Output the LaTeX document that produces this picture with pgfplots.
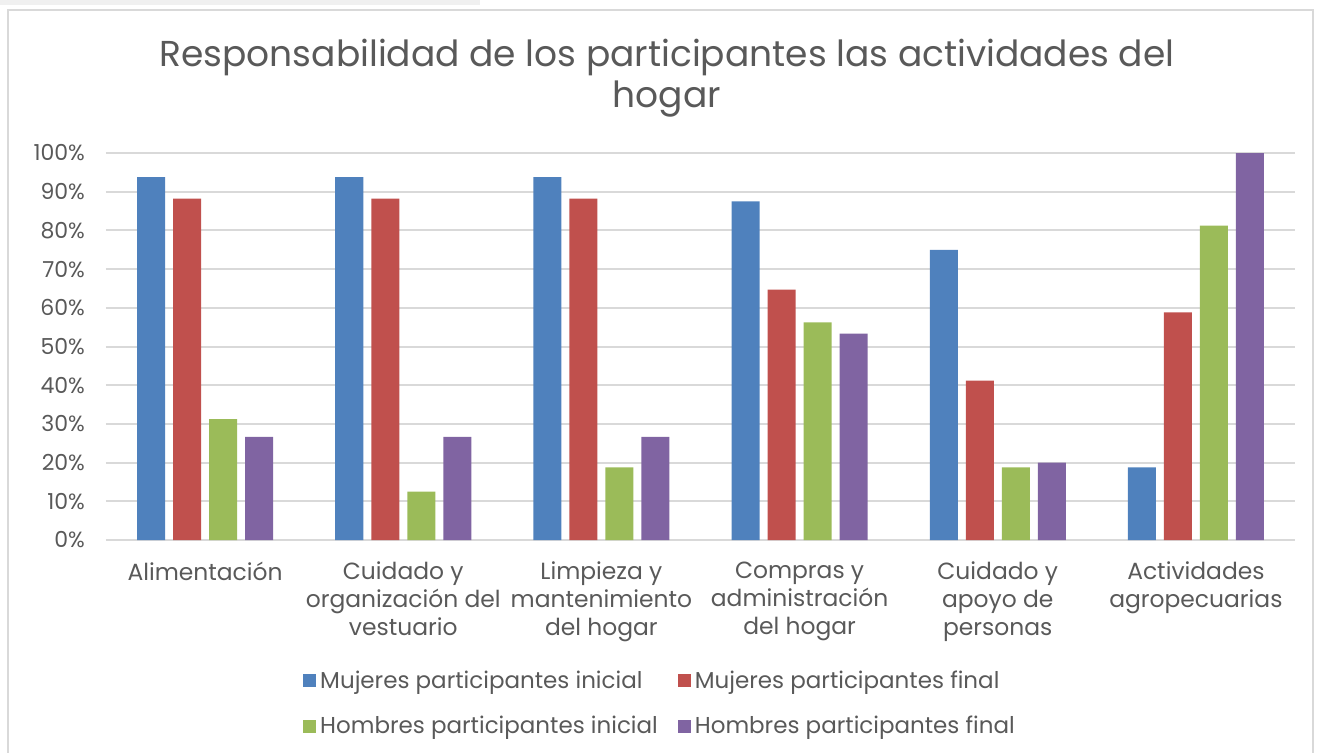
\documentclass[border=0pt]{standalone}
\usepackage{fontspec}
\setmainfont{Poppins}
\usepackage{pgfplots}
\pgfplotsset{compat=1.18}
\definecolor{txt}{HTML}{595959}
\definecolor{gridc}{HTML}{D9D9D9}
\definecolor{cA}{HTML}{4F81BD}
\definecolor{cB}{HTML}{C0504D}
\definecolor{cC}{HTML}{9BBB59}
\definecolor{cD}{HTML}{8064A2}

\begin{document}
\begin{tikzpicture}
\useasboundingbox (-53pt,-106pt) rectangle (605.5pt,270pt);
% frame of the chart area
\fill[gray!12] (-53pt,270pt) rectangle (187pt,267.5pt);
\draw[gridc, line width=1pt] (-49pt,-110pt) -- (-49pt,265pt) -- (603.5pt,265pt) -- (603.5pt,-110pt);
\node[font=\fontsize{18}{20.5}\selectfont, text=txt, align=center] at (280.5pt,231pt)
  {Responsabilidad de los participantes las actividades del\\hogar};
\begin{axis}[
  scale only axis,
  width=594.5pt, height=193.5pt,
  ybar=4pt, bar width=14pt,
  xmin=-0.5, xmax=5.5, ymin=0, ymax=100,
  xtick={0,1,2,3,4,5},
  xticklabels={Alimentación,
    {Cuidado y\\organización del\\vestuario},
    {Limpieza y\\mantenimiento\\del hogar},
    {Compras y\\administración\\del hogar},
    {Cuidado y\\apoyo de\\personas},
    {Actividades\\agropecuarias}},
  ytick={0,10,...,100},
  yticklabel={\pgfmathprintnumber{\tick}\%},
  /pgf/number format/assume math mode=true,
  major tick length=0pt,
  axis line style={draw=none},
  ymajorgrids,
  grid style={gridc, line width=1pt},
  xticklabel style={font=\fontsize{11.7}{14}\selectfont, text=txt, align=center, anchor=north, yshift=-7.5pt},
  yticklabel style={font=\fontsize{11}{13}\selectfont, text=txt, anchor=east, xshift=-7pt},
  legend columns=2,
  legend cell align=left,
  legend style={at={(0.4668,-0.423)}, anchor=center, draw=none, fill=none,
    font=\fontsize{11.5}{14}\selectfont, text=txt, row sep=8.5pt,
    /tikz/every even column/.append style={column sep=8pt}},
  legend image code/.code={\fill[#1] (0pt,-3.25pt) rectangle (6.5pt,3.25pt);},
]
\addplot[fill=cA, draw=none] coordinates {(0,93.75) (1,93.75) (2,93.75) (3,87.5) (4,75) (5,18.75)};
\addplot[fill=cB, draw=none] coordinates {(0,88.24) (1,88.24) (2,88.24) (3,64.71) (4,41.18) (5,58.82)};
\addplot[fill=cC, draw=none] coordinates {(0,31.25) (1,12.5) (2,18.75) (3,56.25) (4,18.75) (5,81.25)};
\addplot[fill=cD, draw=none] coordinates {(0,26.67) (1,26.67) (2,26.67) (3,53.33) (4,20) (5,100)};
\legend{Mujeres participantes inicial, Mujeres participantes final,
  Hombres participantes inicial, Hombres participantes final}
\end{axis}
\end{tikzpicture}
\end{document}
